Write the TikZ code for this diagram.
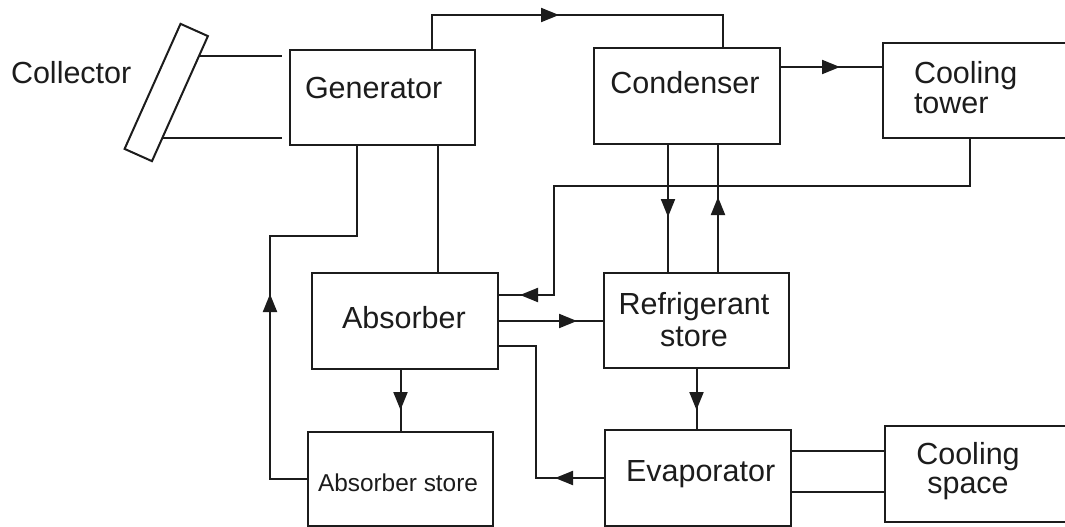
\documentclass[tikz,border=0pt]{standalone}
\usepackage{fontspec}
\setmainfont{Liberation Sans}
\usetikzlibrary{arrows.meta,decorations.markings}

\definecolor{ink}{RGB}{28,28,28}

\begin{document}
\begin{tikzpicture}[x=1pt,y=-1pt,color=ink,line width=2pt,
  box/.style={draw,rectangle,inner sep=0pt,anchor=north west},
  txt/.style={inner sep=0pt,font=\fontsize{30.5}{30.5}\selectfont},
  midarrow/.style={postaction={decorate,decoration={markings,
      mark=at position #1 with {\arrow{Triangle[length=18pt,width=14pt]}}}}}]

% page frame
\path[use as bounding box] (0,0) rectangle (1065,527);
\fill[white] (0,0) rectangle (1065,527);
\clip (0,0) rectangle (1065,527);

% components
\node[draw,rectangle,inner sep=0pt,minimum width=137pt,minimum height=30pt,
      rotate=65.9] (col) at (166.25,92.5) {};
\node[box,minimum width=185pt,minimum height=95pt] (gen)      at (289,49)  {};
\node[box,minimum width=186pt,minimum height=96pt] (cond)     at (593,47)  {};
\node[box,minimum width=185pt,minimum height=95pt] (tower)    at (882,42)  {};
\node[box,minimum width=186pt,minimum height=96pt] (absorber) at (311,272) {};
\node[box,minimum width=185pt,minimum height=95pt] (refrig)   at (603,272) {};
\node[box,minimum width=185pt,minimum height=94pt] (absstore) at (307,431) {};
\node[box,minimum width=186pt,minimum height=96pt] (evap)     at (604,429) {};
\node[box,minimum width=183pt,minimum height=96pt] (space)    at (884,425) {};

% labels
\node[txt,anchor=base west] (collbl) at (10,83) {Collector};
\node[txt,anchor=base west] (genlbl) at (304,99) {Generator};
\node[txt,anchor=base] (condlbl) at (685,93) {Condenser};
\node[txt,anchor=north west,align=left,font=\fontsize{30.5}{30}\selectfont]
     (towerlbl) at (913,57) {\rule{0pt}{25pt}Cooling\\tower};
\node[txt,anchor=base west] (abslbl) at (341,328) {Absorber};
\node[txt,anchor=north,align=center,font=\fontsize{30.5}{32}\selectfont]
     (refriglbl) at (694,288) {\rule{0pt}{25pt}Refrigerant\\store};
\node[txt,anchor=base west,font=\fontsize{24.4}{24.4}\selectfont]
     (absstorelbl) at (317,491) {Absorber store};
\node[txt,anchor=base west] (evaplbl) at (625,481) {Evaporator};
\node[txt,anchor=north,align=center,font=\fontsize{30.5}{29}\selectfont]
     (spacelbl) at (968,438) {\rule{0pt}{25pt}Cooling\\space};

% collector pipes
\coordinate (cu) at (intersection of col.south west--col.south east and 0,56--300,56);
\coordinate (cl) at (intersection of col.south west--col.south east and 0,138--300,138);
\coordinate (gw) at ([xshift=-7pt]gen.west);
\draw (cu) -- (cu -| gw);
\draw (cl) -- (cl -| gw);

% generator -> condenser
\draw[midarrow=161pt] ([xshift=49.5pt]gen.north) -- ++(0,-34) -| ([xshift=36pt]cond.north);
% generator -> absorber
\draw ([xshift=55.5pt]gen.south) coordinate (g2) -- (g2 |- absorber.north);
% absorber store -> generator
\draw[midarrow=222pt] (absstore.west) -| (270,236) -| ([xshift=-25.5pt]gen.south);

% condenser -> cooling tower
\draw[midarrow=59pt] ([yshift=29pt]cond.east) coordinate (ct) -- (ct -| tower.west);
% condenser <-> refrigerant store
\draw[midarrow=72pt] ([xshift=-19pt]cond.south) coordinate (c1) -- (c1 |- refrig.north);
\draw[midarrow=75pt] ([xshift=21.5pt]refrig.north) coordinate (c2) -- (c2 |- cond.south);

% cooling tower -> absorber
\draw[midarrow=606pt] ([xshift=-5.5pt]tower.south) |- (554,186) |- ([yshift=26pt]absorber.east);

% absorber -> refrigerant store
\draw[midarrow=78pt] (absorber.east) -- (absorber.east -| refrig.west);
% evaporator -> absorber
\draw[midarrow=49pt] (evap.west) -| ([xshift=37pt,yshift=-25pt]absorber.east)
      -- ([yshift=-25pt]absorber.east);
% absorber -> absorber store
\draw[midarrow=40pt] (absstore.north |- absorber.south) -- (absstore.north);
% refrigerant store -> evaporator
\draw[midarrow=41pt] (refrig.south) -- (refrig.south |- evap.north);

% evaporator -- cooling space
\draw ([yshift=27pt]evap.east) coordinate (e1) -- (e1 -| space.west);
\draw ([yshift=-14pt]evap.east) coordinate (e2) -- (e2 -| space.west);

\end{tikzpicture}
\end{document}
